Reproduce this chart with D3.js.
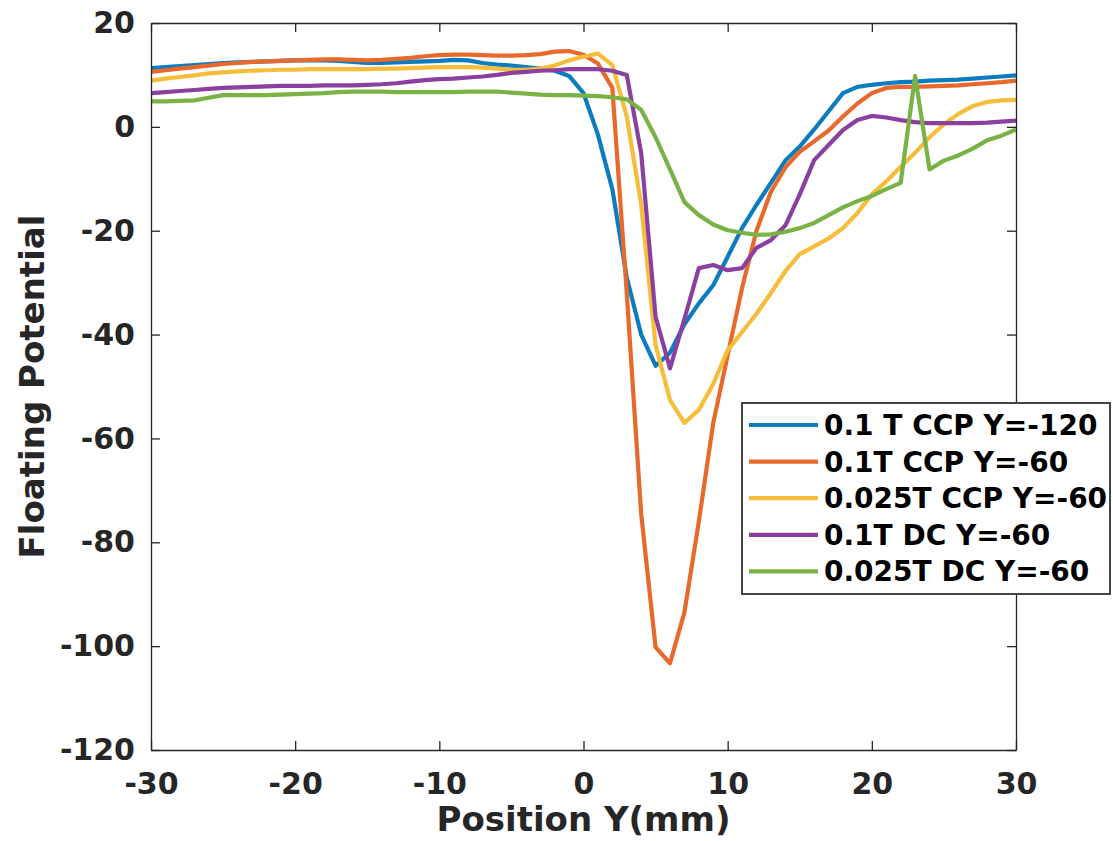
<!DOCTYPE html>
<html>
<head>
<meta charset="utf-8">
<script src="https://cdn.jsdelivr.net/npm/d3@7"></script>
<style>
  html, body { margin: 0; padding: 0; background: #fff; }
  svg { display: block; font-family: "DejaVu Sans", sans-serif; font-weight: bold; }
</style>
</head>
<body>
<svg id="chart" width="1113" height="841"></svg>
<script>
const positions = [-30,-29,-28,-27,-26,-25,-24,-23,-22,-21,-20,-19,-18,-17,-16,-15,-14,-13,-12,-11,-10,-9,-8,-7,-6,-5,-4,-3,-2,-1,0,1,2,3,4,5,6,7,8,9,10,11,12,13,14,15,16,17,18,19,20,21,22,23,24,25,26,27,28,29,30];

const seriesNames = ["0.1 T CCP Y=-120", "0.1T CCP Y=-60", "0.025T CCP Y=-60", "0.1T DC Y=-60", "0.025T DC Y=-60"];
const seriesColors = ["#0C7CC1", "#E8692B", "#F5BD3A", "#8B3F9F", "#79B245"];

const ccp01_y120 = [11.3,11.5,11.7,11.9,12.1,12.3,12.4,12.5,12.6,12.7,12.8,12.8,12.8,12.7,12.5,12.3,12.3,12.4,12.5,12.6,12.7,12.9,12.8,12.3,12.0,11.8,11.5,11.2,10.8,9.8,
  6.5,-1.5,-12,-29,-40,-46,-43.5,-38,-34,-30.5,-25,-19.5,-15,-10.8,-6.5,-3.8,-0.5,3,6.5,7.7,8.1,8.4,8.6,8.7,8.9,9.0,9.1,9.3,9.5,9.7,9.9];
const ccp01_y60 = [10.6,10.9,11.2,11.5,11.8,12.1,12.3,12.5,12.6,12.7,12.8,12.9,13.0,13.0,12.9,12.8,12.9,13.1,13.3,13.6,13.8,13.9,13.9,13.8,13.7,13.7,13.8,14.0,14.5,14.6,
  13.9,12.2,7.5,-32,-74.5,-100.2,-103.3,-93.5,-76,-57,-44,-31,-20,-12.5,-7.8,-4.8,-2.8,-0.7,2,4.5,6.5,7.5,7.7,7.7,7.8,7.9,8.0,8.2,8.4,8.6,8.9];
const ccp0025_y60 = [8.9,9.3,9.6,9.9,10.3,10.5,10.7,10.8,10.9,11.0,11.0,11.1,11.1,11.1,11.1,11.1,11.2,11.2,11.3,11.4,11.5,11.5,11.5,11.4,11.2,11.0,11.0,11.2,11.8,12.8,
  13.5,14.1,11.9,2,-15,-42,-52.6,-57,-54.5,-49.5,-43,-39.5,-36,-32,-27.8,-24.5,-23,-21.5,-19.5,-16.6,-13,-10.5,-7.7,-5,-2,0.5,2.5,4.0,4.8,5.1,5.2];
const dc01_y60 = [6.5,6.7,6.9,7.1,7.3,7.5,7.6,7.7,7.8,7.9,7.9,7.9,8.0,8.0,8.0,8.1,8.2,8.4,8.7,9.0,9.2,9.3,9.5,9.7,10.0,10.4,10.6,10.8,10.9,11.1,
  11.1,11.1,10.8,10.0,-5,-36.6,-46.5,-37,-27.2,-26.6,-27.6,-27.2,-23.3,-21.8,-19,-13,-6.4,-3.5,-0.6,1.3,2.1,1.8,1.3,0.9,0.7,0.7,0.7,0.7,0.8,1.0,1.2];
const dc0025_y60 = [4.9,4.9,5.0,5.1,5.6,6.1,6.1,6.1,6.1,6.2,6.3,6.4,6.5,6.7,6.8,6.8,6.8,6.7,6.7,6.7,6.7,6.7,6.8,6.8,6.8,6.6,6.4,6.2,6.1,6.1,
  6.0,5.9,5.7,5.3,3.3,-2,-8.2,-14.5,-17,-18.8,-19.9,-20.4,-20.8,-20.7,-20.2,-19.5,-18.5,-17,-15.5,-14.3,-13.3,-12,-10.8,9.8,-8.2,-6.5,-5.5,-4.2,-2.6,-1.7,-0.5];

const seriesValues = [ccp01_y120, ccp01_y60, ccp0025_y60, dc01_y60, dc0025_y60];

const xTicks = [-30,-20,-10,0,10,20,30];
const yTicks = [20,0,-20,-40,-60,-80,-100,-120];
const xLabel = "Position Y(mm)";
const yLabel = "Floating Potential";

const svg = d3.select("#chart");
const L = 151, R = 1016, T = 23, B = 750;
const x = d3.scaleLinear().domain([-30, 30]).range([L, R]);
const y = d3.scaleLinear().domain([-120, 20]).range([B, T]);
const axisColor = "#262626";
const tickLen = 9;

// series
const line = d3.line().x(d => x(d[0])).y(d => y(d[1]));
seriesValues.forEach((vals, i) => {
  svg.append("path")
    .datum(positions.map((p, j) => [p, vals[j]]))
    .attr("d", line)
    .attr("fill", "none")
    .attr("stroke", seriesColors[i])
    .attr("stroke-width", 4.2)
    .attr("stroke-linejoin", "round");
});

// axes (MATLAB style box with inward ticks)
function styleAxis(g) {
  g.selectAll(".domain").attr("stroke", axisColor).attr("stroke-width", 1.3);
  g.selectAll(".tick line").attr("stroke", axisColor).attr("stroke-width", 1.3);
  g.selectAll(".tick text").attr("fill", axisColor)
    .style("font-family", "'DejaVu Sans', sans-serif").style("font-weight", "bold").style("font-size", "30px");
}
const fmt = d => String(d).replace("\u2212", "-");

svg.append("g").attr("transform", `translate(0,${B})`)
  .call(d3.axisBottom(x).tickValues(xTicks).tickFormat(fmt).tickSizeInner(-tickLen).tickSizeOuter(0).tickPadding(tickLen + 14))
  .call(styleAxis);
svg.append("g").attr("transform", `translate(0,${T})`)
  .call(d3.axisTop(x).tickValues(xTicks).tickFormat("").tickSizeInner(-tickLen).tickSizeOuter(0))
  .call(styleAxis);
svg.append("g").attr("transform", `translate(${L},0)`)
  .call(d3.axisLeft(y).tickValues(yTicks).tickFormat(fmt).tickSizeInner(-tickLen).tickSizeOuter(0).tickPadding(tickLen + 7))
  .call(styleAxis);
svg.append("g").attr("transform", `translate(${R},0)`)
  .call(d3.axisRight(y).tickValues(yTicks).tickFormat("").tickSizeInner(-tickLen).tickSizeOuter(0))
  .call(styleAxis);

// axis labels
svg.append("text")
  .attr("x", (L + R) / 2).attr("y", 831)
  .attr("text-anchor", "middle")
  .attr("fill", axisColor)
  .style("font-size", "34px")
  .text(xLabel);
svg.append("text")
  .attr("transform", `translate(44,${(T + B) / 2}) rotate(-90)`)
  .attr("text-anchor", "middle")
  .attr("fill", axisColor)
  .style("font-size", "34px")
  .text(yLabel);

// legend
const lg = svg.append("g");
lg.append("rect")
  .attr("x", 742).attr("y", 403).attr("width", 368).attr("height", 191)
  .attr("fill", "#fff").attr("stroke", "#444").attr("stroke-width", 2);
seriesNames.forEach((name, i) => {
  const cy = 425 + i * 36.6;
  lg.append("line")
    .attr("x1", 749).attr("x2", 818).attr("y1", cy).attr("y2", cy)
    .attr("stroke", seriesColors[i]).attr("stroke-width", 4.2);
  lg.append("text")
    .attr("x", 824).attr("y", cy)
    .attr("dy", "0.36em")
    .attr("fill", "#000")
    .style("font-size", "28px")
    .text(name);
});
</script>
</body>
</html>
